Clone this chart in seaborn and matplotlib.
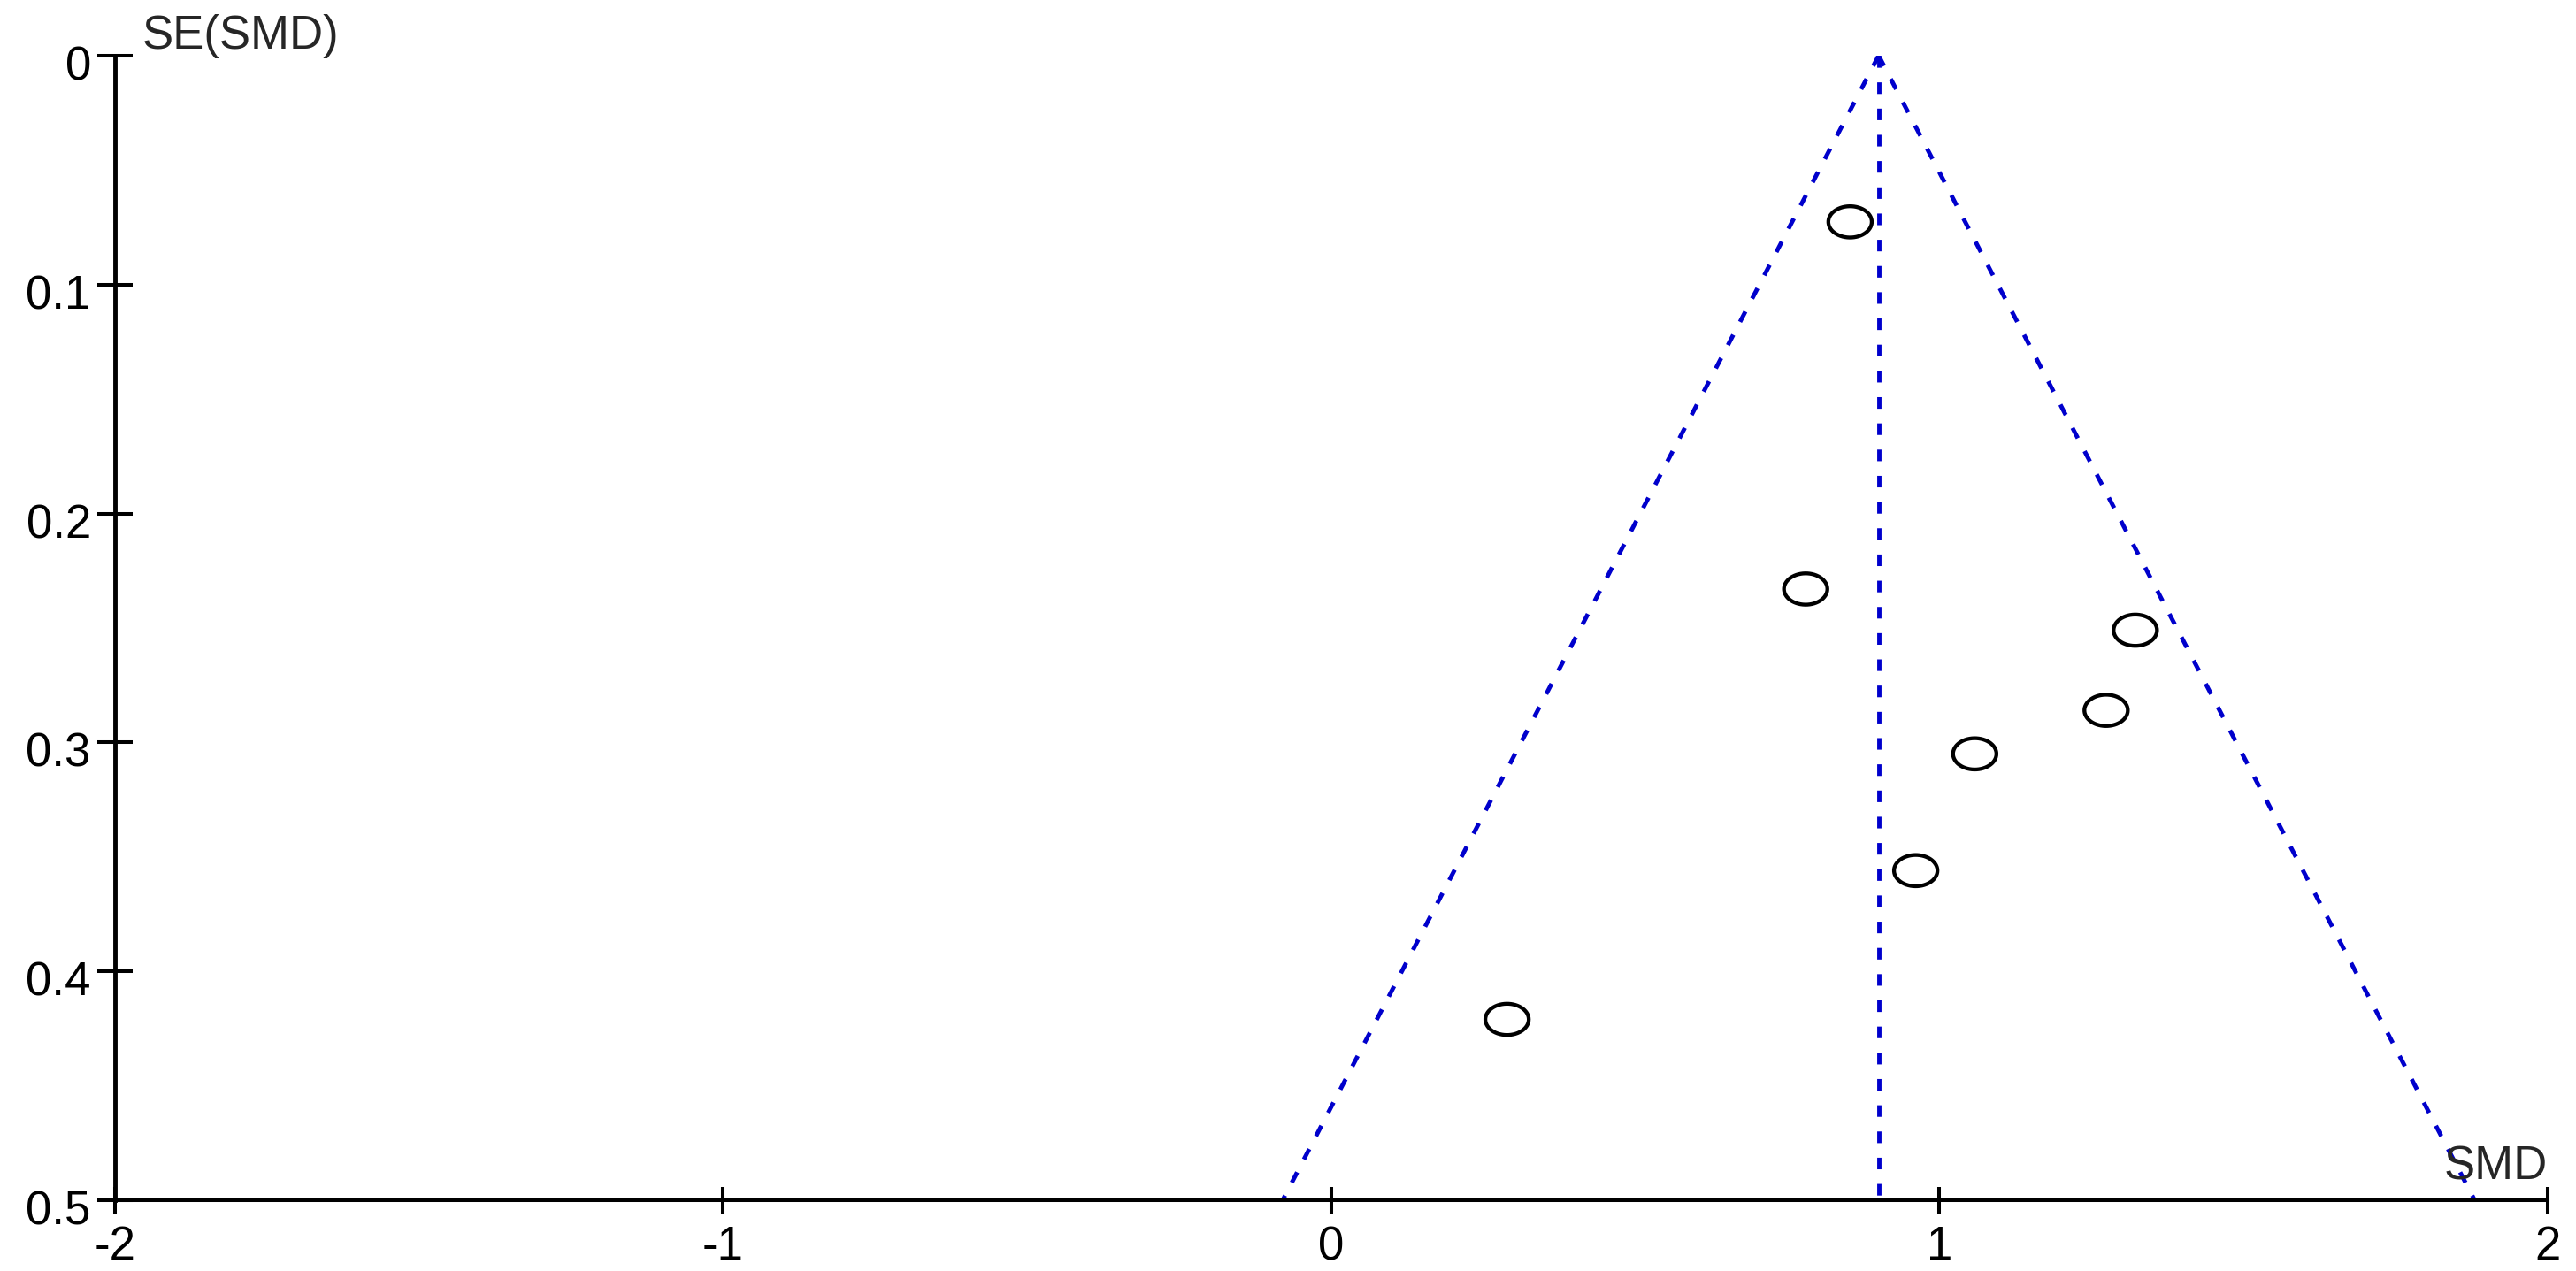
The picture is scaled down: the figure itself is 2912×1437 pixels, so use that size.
import numpy as np
import pandas as pd
import matplotlib
matplotlib.use("Agg")
import matplotlib.pyplot as plt
import matplotlib.transforms as mtransforms
from matplotlib.path import Path
import seaborn as sns

# study estimates
smd = [0.853, 0.780, 1.322, 1.274, 1.058, 0.961, 0.289]
se_smd = [0.0726, 0.233, 0.251, 0.286, 0.305, 0.356, 0.421]
pooled_smd = 0.90
se_max = 0.5

x_ticks = [-2, -1, 0, 1, 2]
y_ticks = [0, 0.1, 0.2, 0.3, 0.4, 0.5]
y_tick_labels = ["0", "0.1", "0.2", "0.3", "0.4", "0.5"]

sns.set_style("white")
plt.rcParams["font.family"] = ["Liberation Sans", "DejaVu Sans"]

df = pd.DataFrame({"SMD": smd, "SE": se_smd})

fig = plt.figure(figsize=(29.12, 14.37), dpi=100)
ax = fig.add_axes([0.0446, 0.0557, 0.9444, 0.9005])

# funnel: pooled estimate +/- 1.96 SE
se_line = np.array([0.0, se_max])
blue = "#0000CC"
dash = (2.7, 3.4)
ax.plot(pooled_smd - 1.96 * se_line, se_line, color=blue, lw=3.5, dashes=dash)
ax.plot(pooled_smd + 1.96 * se_line, se_line, color=blue, lw=3.5, dashes=dash)
ax.plot([pooled_smd, pooled_smd], se_line, color=blue, lw=3.5, dashes=dash)

# horizontally stretched open circle marker
theta = np.linspace(0, 2 * np.pi, 60)
ellipse = Path(np.column_stack([np.cos(theta), 0.72 * np.sin(theta)]), closed=True)

sns.scatterplot(data=df, x="SMD", y="SE", ax=ax, marker=ellipse, s=1250,
                facecolor="none", edgecolor="black", linewidth=3.1, zorder=5)

ax.set_xlim(-2, 2)
ax.set_ylim(0.5, 0)
ax.set_xticks(x_ticks)
ax.set_yticks(y_ticks)
ax.set_xticklabels([str(t) for t in x_ticks])
ax.set_yticklabels(y_tick_labels)
ax.set_xlabel("")
ax.set_ylabel("")

for side in ["top", "right"]:
    ax.spines[side].set_visible(False)
ax.spines["left"].set_linewidth(3.5)
ax.spines["bottom"].set_linewidth(2.9)
ax.spines["left"].set_color("black")
ax.spines["bottom"].set_color("black")
ax.spines["left"].set_zorder(6)
ax.spines["bottom"].set_zorder(6)

ax.tick_params(axis="y", left=True, direction="inout", length=29, width=2.9,
               labelsize=38, pad=5, colors="black")
ax.tick_params(axis="x", bottom=True, direction="inout", length=21, width=2.9,
               labelsize=38, pad=10, colors="black")

# y tick labels sit a little below their ticks in the reference
offset = mtransforms.ScaledTranslation(0, -8 / 100, fig.dpi_scale_trans)
for lab in ax.get_yticklabels():
    lab.set_transform(lab.get_transform() + offset)

ax.text(0.011, 0.998, "SE(SMD)", transform=ax.transAxes, fontsize=38,
        ha="left", va="bottom")
ax.text(1.0, 0.01, "SMD", transform=ax.transAxes, fontsize=38,
        ha="right", va="bottom")

fig.savefig("out.png", dpi=100)
plt.close(fig)
